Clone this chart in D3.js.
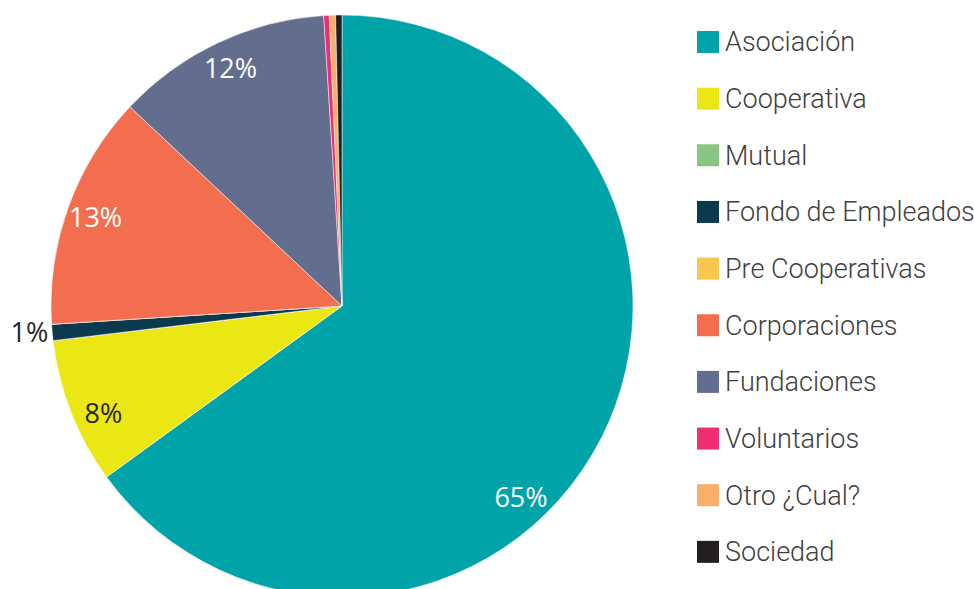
<!DOCTYPE html>
<html>
<head>
<meta charset="utf-8">
<script src="https://cdn.jsdelivr.net/npm/d3@7"></script>
<style>
  body { margin: 0; background: #fff; }
  svg { display: block; }
</style>
</head>
<body>
<script>
(function (d3) {
    'use strict';

    var categories = [
        "Asociación",
        "Cooperativa",
        "Mutual",
        "Fondo de Empleados",
        "Pre Cooperativas",
        "Corporaciones",
        "Fundaciones",
        "Voluntarios",
        "Otro ¿Cual?",
        "Sociedad"
    ];

    // percentages
    var values = [65.0, 8.1, 0, 0.9, 0, 13.0, 12.0, 0.3, 0.35, 0.35];

    var colors = [
        "#00a3a8", // teal
        "#ebe715", // yellow
        "#88c584", // green
        "#0b3a4e", // navy
        "#f9c74f", // gold
        "#f26e4e", // orange
        "#636e8e", // slate
        "#ee2d72", // pink
        "#f9ae6a", // light orange
        "#231f20"  // black
    ];

    const width = 974, height = 589;
    const cx = 342, cy = 306, radius = 291;

    var data = categories.map(function (c, i) { return { name: c, value: values[i] }; });

    var z = d3.scaleOrdinal().domain(categories).range(colors);

    var svg = d3.select("body").append("svg")
        .attr("width", width)
        .attr("height", height);

    var pie = d3.pie()
        .sort(null)
        .value(function (d) { return d.value; });

    var arc = d3.arc().innerRadius(0).outerRadius(radius);
    var arcs = pie(data);

    var g = svg.append("g")
        .attr("transform", "translate(" + cx + "," + cy + ")");

    g.selectAll("path")
        .data(arcs)
        .enter().append("path")
        .attr("d", arc)
        .attr("fill", function (d) { return z(d.data.name); })
        .attr("stroke", "#fff")
        .attr("stroke-width", 0.5);

    // labels: inside at ~0.9r, tiny ones outside, <1% hidden
    var maxVal = d3.max(values);
    var labels = arcs.filter(function (d) { return Math.round(d.data.value) >= 1; });

    g.selectAll("text.lbl")
        .data(labels)
        .enter().append("text")
        .attr("class", "lbl")
        .attr("font-family", "'Open Sans', sans-serif")
        .attr("font-size", 27)
        .attr("dy", "0.35em")
        .each(function (d) {
            var span = d.endAngle - d.startAngle;
            var a = d.startAngle + span / 2;
            if (d.data.value === maxVal) a = d.startAngle + span * 0.585; // best fit spot
            if (d.data.name === "Cooperativa") a = d.startAngle + span * 0.4;
            var outside = d.data.value < 2;
            var r = outside ? radius + 4 : radius * 0.9;
            var x = Math.sin(a) * r, y = -Math.cos(a) * r;
            var dark = d.data.name === "Cooperativa" || outside;
            d3.select(this)
                .attr("x", x)
                .attr("y", y)
                .attr("text-anchor", outside ? "end" : "middle")
                .attr("fill", dark ? "#262626" : "#fff")
                .text(Math.round(d.data.value) + "%");
        });

    var legend = svg.append("g")
        .attr("font-family", "Roboto, sans-serif")
        .attr("font-weight", 300)
        .attr("font-size", 27)
        .selectAll("g")
        .data(categories)
        .enter().append("g")
        .attr("transform", function (d, i) { return "translate(697," + (31 + i * 56.65) + ")"; });

    legend.append("rect")
        .attr("width", 22)
        .attr("height", 22)
        .attr("fill", z);

    legend.append("text")
        .attr("x", 28)
        .attr("y", 11)
        .attr("dy", "0.35em")
        .attr("fill", "#404040")
        .text(function (d) { return d; });

})(d3);
</script>
</body>
</html>
